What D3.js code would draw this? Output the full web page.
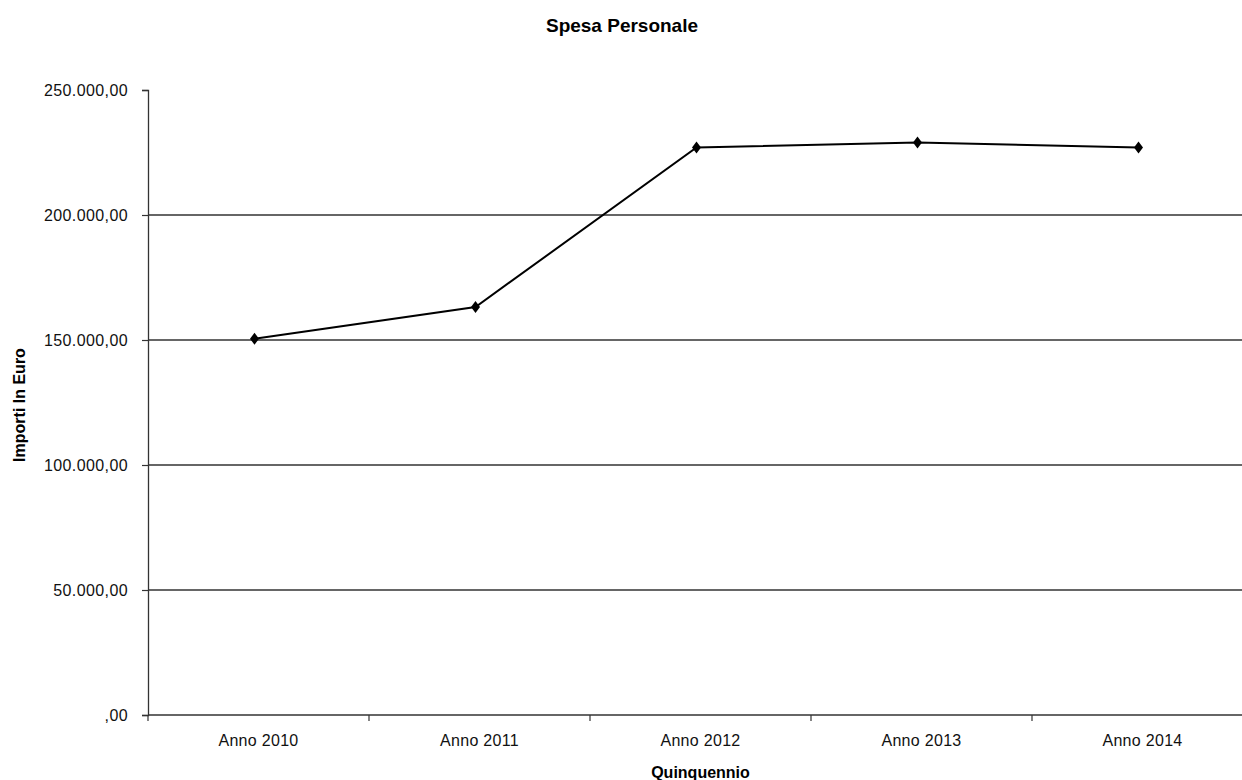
<!DOCTYPE html>
<html><head><meta charset="utf-8">
<script src="https://cdn.jsdelivr.net/npm/d3@7"></script>
<style>
html,body{margin:0;padding:0;background:#fff;}
svg{display:block;font-family:"Liberation Sans",Arial,sans-serif;}
</style></head>
<body>
<svg id="chart" width="1242" height="780"></svg>
<script>
const categories = ["Anno 2010","Anno 2011","Anno 2012","Anno 2013","Anno 2014"];
const values = [150500, 163200, 227000, 229000, 227000];
const yTicks = [0, 50000, 100000, 150000, 200000, 250000];
const yTickLabels = [",00","50.000,00","100.000,00","150.000,00","200.000,00","250.000,00"];
const titleText = "Spesa Personale";
const xTitle = "Quinquennio";
const yTitle = "Importi In Euro";

(function () {
const svg = d3.select("#chart");
const mL = 148, mR = 1253, mT = 90, mB = 715;

const x = d3.scaleBand().domain(categories).range([mL, mR]).padding(0);
const y = d3.scaleLinear().domain([0, 250000]).range([mB, mT]);

// gridlines
svg.append("g").selectAll("line").data(yTicks.filter(d => d > 0 && d < 250000)).join("line")
  .attr("x1", mL).attr("x2", 1242)
  .attr("y1", d => y(d)).attr("y2", d => y(d))
  .attr("stroke", "#333").attr("stroke-width", 1.3);

// x axis
const xAxis = svg.append("g").attr("transform", `translate(0,${y(0)})`)
  .call(d3.axisBottom(x).tickSize(0).tickPadding(20));
xAxis.select(".domain").remove();
xAxis.append("line").attr("x1", mL).attr("x2", 1242).attr("y1", 0).attr("y2", 0)
  .attr("stroke", "#333").attr("stroke-width", 1.3);
xAxis.selectAll(".tick text").attr("font-size", 16).attr("fill", "#111")
  .attr("font-family", "Liberation Sans, Arial, sans-serif").attr("letter-spacing", "0.3px");
const bounds = categories.map(c => x(c)).concat([x(categories[categories.length-1]) + x.bandwidth()]);
xAxis.selectAll(".bnd").data(bounds.filter(b => b < 1242)).join("line").attr("class","bnd")
  .attr("x1", d => d).attr("x2", d => d).attr("y1", 0).attr("y2", 6)
  .attr("stroke", "#333").attr("stroke-width", 1.2);

// y axis
const yAxis = svg.append("g").attr("transform", `translate(${mL},0)`)
  .call(d3.axisLeft(y).tickValues(yTicks).tickFormat((d,i) => yTickLabels[i]).tickSize(6).tickPadding(14));
yAxis.select(".domain").attr("stroke", "#333").attr("stroke-width", 1.3);
yAxis.selectAll(".tick line").attr("stroke", "#333").attr("stroke-width", 1.2);
yAxis.selectAll(".tick text").attr("font-size", 16).attr("fill", "#111")
  .attr("font-family", "Liberation Sans, Arial, sans-serif").attr("letter-spacing", "0.4px");

// line
const pts = categories.map((c, i) => ({c, v: values[i]}));
svg.append("path").datum(pts)
  .attr("fill", "none").attr("stroke", "#000").attr("stroke-width", 2)
  .attr("d", d3.line().x(d => x(d.c) + x.bandwidth()/2 - 4).y(d => y(d.v)));

// diamond markers
svg.append("g").selectAll("path").data(pts).join("path")
  .attr("transform", d => `translate(${x(d.c) + x.bandwidth()/2 - 4},${y(d.v)})`)
  .attr("d", "M0,-6L4.5,0L0,6L-4.5,0Z").attr("fill", "#000");

// titles
svg.append("text").attr("x", 622).attr("y", 32).attr("text-anchor", "middle")
  .attr("font-size", 19).attr("font-weight", "bold").text(titleText);
svg.append("text").attr("x", (mL + mR)/2).attr("y", 778).attr("text-anchor", "middle")
  .attr("font-size", 16).attr("font-weight", "bold").text(xTitle);
svg.append("text").attr("transform", "translate(25,405) rotate(-90)").attr("text-anchor", "middle")
  .attr("font-size", 16).attr("font-weight", "bold").text(yTitle);
})();
</script>
</body></html>
